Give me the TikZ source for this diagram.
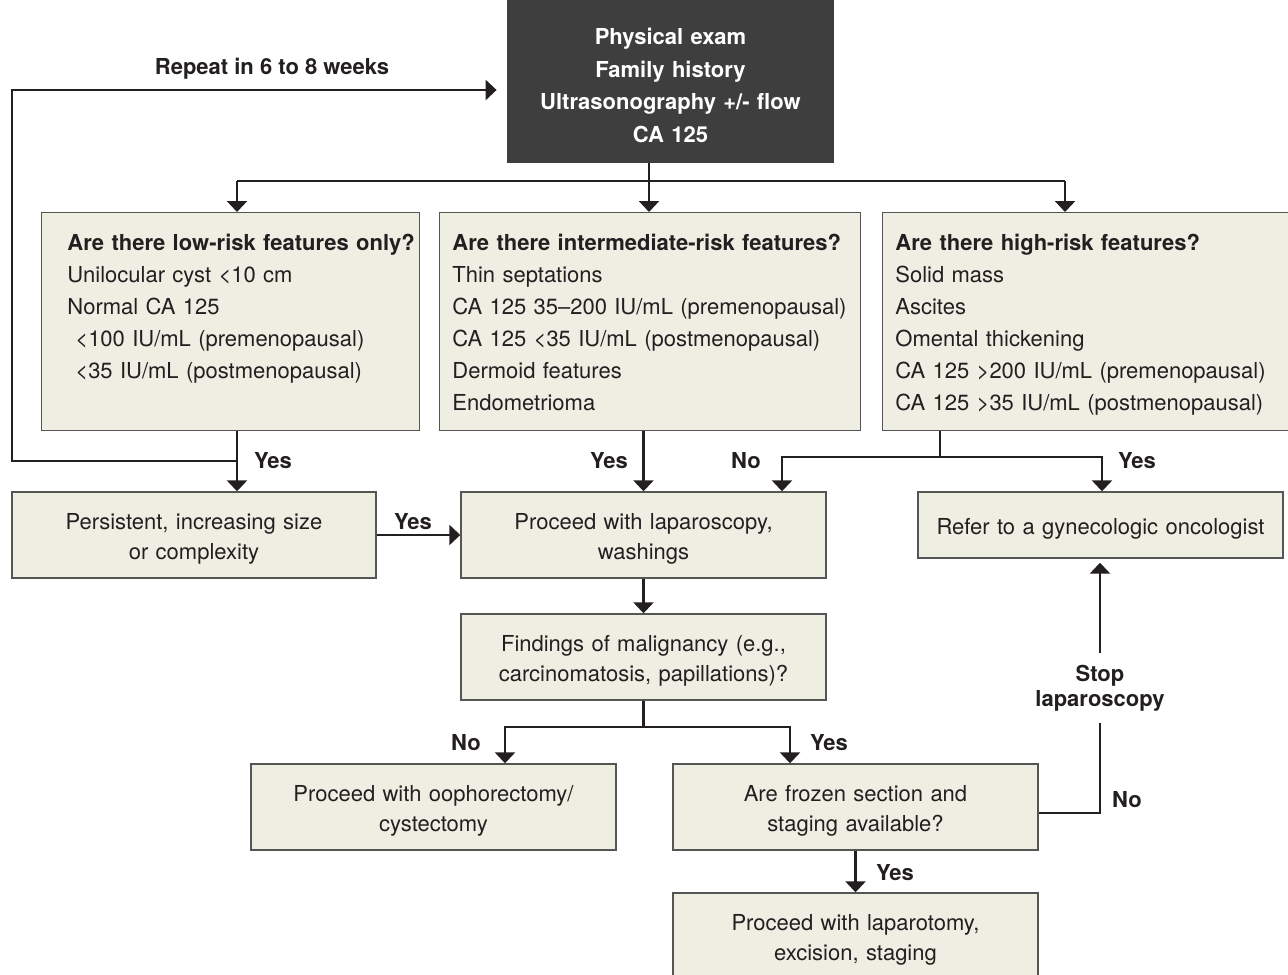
\documentclass[tikz,border=0pt]{standalone}
\usepackage{fontspec}
\setmainfont{TeX Gyre Heros}
\usetikzlibrary{arrows.meta}
\definecolor{boxfill}{HTML}{EFEEE3}
\definecolor{boxline}{HTML}{555555}
\definecolor{examfill}{HTML}{3E3E3E}
\definecolor{inkdark}{HTML}{231F20}

\begin{document}
\begin{tikzpicture}[x=0.5pt, y=-0.5pt,
  every node/.style={align=center, font=\fontsize{11}{15}\selectfont, text=inkdark},
  flowbox/.style={draw=boxline, fill=boxfill, line width=0.7pt, inner sep=0pt,
    text width=180pt, text height=12pt, minimum width=182.5pt, minimum height=43pt},
  riskbox/.style={draw=boxline, fill=boxfill, line width=0.7pt, inner sep=0pt,
    anchor=north west, minimum height=109pt},
  risktext/.style={anchor=base west, align=left, inner sep=0pt,
    font=\fontsize{11}{16}\selectfont},
  answer/.style={font=\fontsize{11}{12.5}\selectfont\bfseries},
  flow/.style={line width=1.3pt, draw=inkdark},
  arr/.style={flow, -{Triangle[width=10pt,length=5.5pt]}}]

  \clip (0,0) rectangle (1288,974);

  % ── Entry: examination box ────────────────────────────────────
  \node[fill=examfill, minimum width=163.5pt, minimum height=81.5pt, text=white,
    inner sep=0pt, text width=160pt, text height=12pt,
    font=\fontsize{11}{16.25}\selectfont\bfseries] (exam) at (670.5,81.5)
    {Physical exam\\Family history\\Ultrasonography +/- flow\\CA 125};

  % ── Risk columns ──────────────────────────────────────────────
  \node[riskbox, minimum width=189pt] (lowrisk) at (41,212) {};
  \node[riskbox, minimum width=210.5pt] (midrisk) at (439,212) {};
  \node[riskbox, minimum width=204pt] (highrisk) at (882,212) {};

  \node[risktext, text width=190pt] (lowtext) at ([shift={(13pt,-19pt)}]lowrisk.north west)
    {\textbf{Are there low-risk features only?}\\Unilocular cyst <10 cm\\Normal CA 125\\
     \hspace*{4pt}<100 IU/mL (premenopausal)\\\hspace*{4pt}<35 IU/mL (postmenopausal)};
  \node[risktext, text width=200pt] (midtext) at ([shift={(6.5pt,-19pt)}]midrisk.north west)
    {\textbf{Are there intermediate-risk features?}\\Thin septations\\
     CA 125 35--200 IU/mL (premenopausal)\\CA 125 <35 IU/mL (postmenopausal)\\
     Dermoid features\\Endometrioma};
  \node[risktext, text width=196pt] (hightext) at ([shift={(6.5pt,-19pt)}]highrisk.north west)
    {\textbf{Are there high-risk features?}\\Solid mass\\Ascites\\Omental thickening\\
     CA 125 >200 IU/mL (premenopausal)\\CA 125 >35 IU/mL (postmenopausal)};

  % ── Outcome boxes ─────────────────────────────────────────────
  \node[flowbox, minimum width=182pt] (persist) at (194,535) {Persistent, increasing size\\or complexity};
  \node[flowbox] (lap) at (643.5,535) {Proceed with laparoscopy,\\washings};
  \node[flowbox, minimum height=33pt] (refer) at (1100.5,525) {Refer to a gynecologic oncologist};
  \node[flowbox] (malig) at (643.5,657) {Findings of malignancy (e.g.,\\carcinomatosis, papillations)?};
  \node[flowbox] (ooph) at (433.5,807) {Proceed with oophorectomy/\\cystectomy};
  \node[flowbox] (frozen) at (855.5,807) {Are frozen section and\\staging available?};
  \node[flowbox] (laparot) at (855.5,936) {Proceed with laparotomy,\\excision, staging};

  % ── Fork from the examination ─────────────────────────────────
  \coordinate (fork) at (649,181);
  \coordinate (lowstem) at (237,181);
  \coordinate (highstem) at (1065,181);
  \draw[flow] (exam.south -| fork) -- (fork);
  \draw[flow] (lowstem) -- (highstem);
  \draw[arr] (lowstem) -- (lowstem |- lowrisk.north);
  \draw[arr] (fork) -- (fork |- midrisk.north);
  \draw[arr] (highstem) -- (highstem |- highrisk.north);

  % ── Low risk: repeat loop ─────────────────────────────────────
  \coordinate (loopfoot) at (237,461);
  \coordinate (loopleft) at (12,461);
  \coordinate (looptop) at (12,90);
  \draw[arr] (lowstem |- lowrisk.south) -- (lowstem |- persist.north);
  \node[answer] (yeslow) at (273,461) {Yes};
  \draw[arr] (loopfoot) -- (loopleft) -- (looptop) -- ([xshift=-5pt]looptop -| exam.west);
  \node[answer] (repeat) at (272,69) {Repeat in 6 to 8 weeks};

  \draw[arr] (persist) -- (lap);
  \node[answer] (yespersist) at (413,522) {Yes};

  % ── Intermediate risk ─────────────────────────────────────────
  \draw[arr] (midrisk.south -| lap.north) -- (lap.north);
  \node[answer] (yesmid) at (609,461) {Yes};

  % ── High risk ─────────────────────────────────────────────────
  \coordinate (highfork) at (940,457);
  \coordinate (nofork) at (782,457);
  \coordinate (yesfork) at (1102,457);
  \draw[flow] (highfork |- highrisk.south) -- (highfork);
  \draw[arr] (highfork) -- (nofork) -- (nofork |- lap.north);
  \draw[arr] (highfork) -- (yesfork) -- (yesfork |- refer.north);
  \node[answer] (nohigh) at (746,461) {No};
  \node[answer] (yeshigh) at (1137,461) {Yes};

  % ── Laparoscopy findings ──────────────────────────────────────
  \draw[arr] (lap) -- (malig);
  \coordinate (maligfork) at (643.5,727);
  \coordinate (noooph) at (505,727);
  \coordinate (yesfrozen) at (790,727);
  \draw[flow] (malig.south) -- (maligfork);
  \draw[arr] (maligfork) -- (noooph) -- (noooph |- ooph.north);
  \draw[arr] (maligfork) -- (yesfrozen) -- (yesfrozen |- frozen.north);
  \node[answer] (nomalig) at (466,743) {No};
  \node[answer] (yesmalig) at (829,743) {Yes};

  % ── Frozen section ────────────────────────────────────────────
  \coordinate (stopcorner) at (1100,813);
  \draw[arr, shorten >=2pt] (frozen.east |- stopcorner) -- (stopcorner) -- (stopcorner |- refer.south);
  \node[answer, fill=white, inner ysep=6pt, inner xsep=1pt] (stop) at (1100,688) {Stop\\laparoscopy};
  \node[answer] (nofrozen) at (1127,800) {No};

  \draw[arr] (frozen) -- (laparot);
  \node[answer] (yesfrozenlbl) at (895,873) {Yes};

\end{tikzpicture}
\end{document}
